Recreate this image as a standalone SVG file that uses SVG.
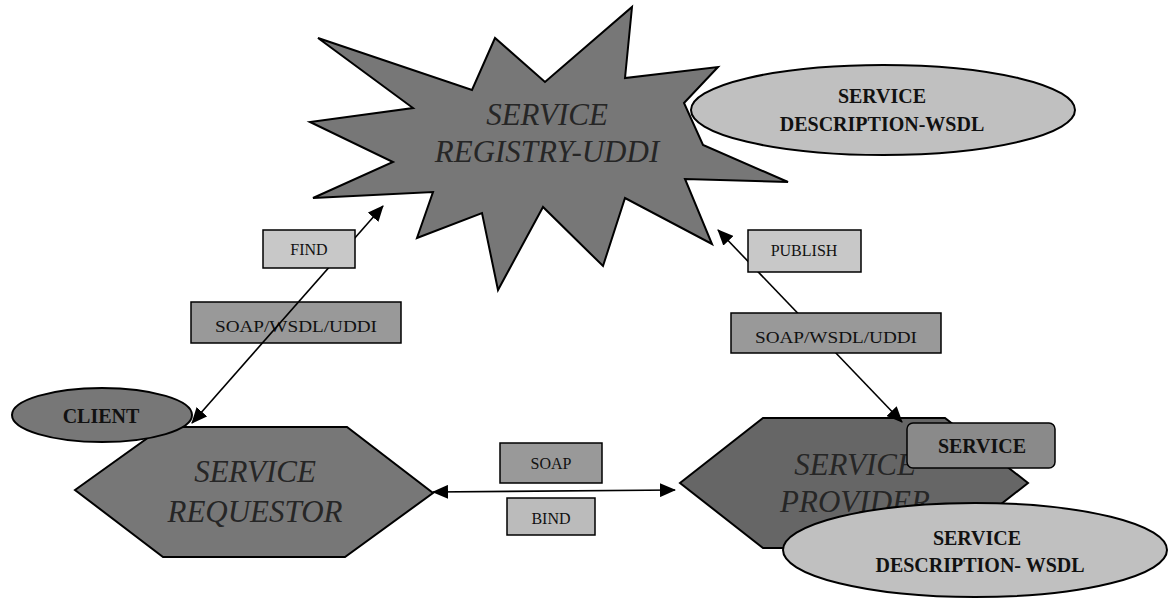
<svg xmlns="http://www.w3.org/2000/svg" width="1169" height="598" viewBox="0 0 1169 598">
<style>
.shape{stroke:#000;stroke-width:2;}
.box{stroke:#000;stroke-width:1.5;}
.ital{font-family:"Liberation Serif","Times New Roman",serif;font-style:italic;font-size:31px;fill:#262626;text-anchor:middle;}
.bold{font-family:"Liberation Serif","Times New Roman",serif;font-weight:bold;font-size:20px;fill:#111;text-anchor:middle;}
.lab{font-family:"Liberation Serif","Times New Roman",serif;font-size:16px;fill:#111;text-anchor:middle;}
.conn{stroke:#000;stroke-width:1.6;fill:none;}
</style>
<defs>
<marker id="ah" markerUnits="userSpaceOnUse" markerWidth="16" markerHeight="14" refX="15" refY="7" orient="auto-start-reverse">
<path d="M0,0 L16,7 L0,14 z" fill="#000"/>
</marker>
</defs>
<rect width="1169" height="598" fill="#fff"/>

<g id="registry">
<polygon class="shape" fill="#777" points="318,38 472,90 495,38 545,82 632,7 625,78 718,67 684,103 703,145 788,182 685,179 712,244 625,198 603,266 543,207 498,290 482,213 417,238 433,192 313,198 393,162 310,122 413,108"/>
<text class="ital" x="547" y="125">SERVICE</text>
<text class="ital" x="547" y="162">REGISTRY-UDDI</text>
</g>

<g id="wsdl-top">
<ellipse class="shape" fill="#c0c0c0" cx="883" cy="110" rx="192" ry="45"/>
<text class="bold" x="882" y="103">SERVICE</text>
<text class="bold" x="882" y="131">DESCRIPTION-WSDL</text>
</g>

<g id="label-soap-left">
<rect class="box" fill="#999" x="191" y="302" width="210" height="41"/>
<text class="lab" x="296" y="332" font-size="17" textLength="162" lengthAdjust="spacingAndGlyphs">SOAP/WSDL/UDDI</text>
</g>

<g id="requestor">
<polygon class="shape" fill="#777" points="75,490 163,427 347,427 433,493 345,557 163,557"/>
<text class="ital" x="255" y="482">SERVICE</text>
<text class="ital" x="255" y="522">REQUESTOR</text>
</g>

<g id="client">
<ellipse class="shape" fill="#777" cx="102" cy="415" rx="90" ry="27"/>
<text class="bold" x="101" y="423">CLIENT</text>
</g>

<g id="provider">
<polygon class="shape" fill="#666" points="680,483 763,418 945,418 1028,483 945,548 763,548"/>
<text class="ital" x="855" y="475">SERVICE</text>
<text class="ital" x="855" y="512">PROVIDER</text>
</g>

<g id="connectors">
<line class="conn" x1="192" y1="423" x2="383" y2="206" marker-start="url(#ah)" marker-end="url(#ah)"/>
<line class="conn" x1="718" y1="230" x2="902" y2="422" marker-start="url(#ah)" marker-end="url(#ah)"/>
<line class="conn" x1="433" y1="492" x2="675" y2="490" marker-start="url(#ah)" marker-end="url(#ah)"/>
</g>

<g id="label-find">
<rect class="box" fill="#c8c8c8" x="263" y="230" width="92" height="38"/>
<text class="lab" x="309" y="255">FIND</text>
</g>

<g id="label-publish">
<rect class="box" fill="#c8c8c8" x="748" y="230" width="113" height="42"/>
<text class="lab" x="804" y="256">PUBLISH</text>
</g>

<g id="label-soap-right">
<rect class="box" fill="#999" x="731" y="313" width="210" height="40"/>
<text class="lab" x="836" y="343" font-size="17" textLength="162" lengthAdjust="spacingAndGlyphs">SOAP/WSDL/UDDI</text>
</g>

<g id="label-soap">
<rect class="box" fill="#999" x="500" y="443" width="102" height="40"/>
<text class="lab" x="551" y="469" font-size="17">SOAP</text>
</g>

<g id="label-bind">
<rect class="box" fill="#bbb" x="507" y="498" width="88" height="37"/>
<text class="lab" x="551" y="524">BIND</text>
</g>

<g id="service">
<rect class="box" fill="#8a8a8a" x="907" y="423" width="148" height="45" rx="6" ry="6"/>
<text class="bold" x="982" y="453">SERVICE</text>
</g>

<g id="wsdl-bottom">
<ellipse class="shape" fill="#c0c0c0" cx="975" cy="550" rx="192" ry="47"/>
<text class="bold" x="977" y="545">SERVICE</text>
<text class="bold" x="980" y="572">DESCRIPTION- WSDL</text>
</g>
</svg>
